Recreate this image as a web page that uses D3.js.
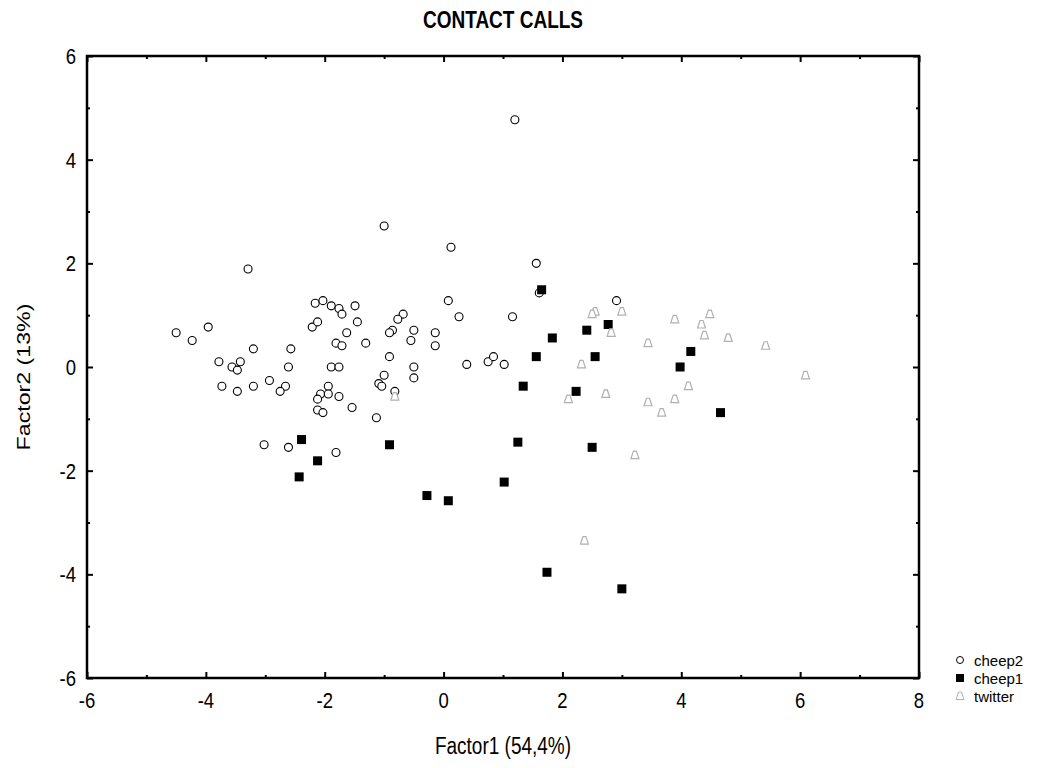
<!DOCTYPE html>
<html>
<head>
<meta charset="utf-8">
<script src="https://cdn.jsdelivr.net/npm/d3@7"></script>
<style>
  html, body { margin: 0; padding: 0; background: #fff; }
  svg text { font-family: Arial, "Liberation Sans", sans-serif; fill: #000; }
</style>
</head>
<body>
<svg id="chart" width="1063" height="768"></svg>
<script>
// Factor scores (Factor1, Factor2) of contact calls, by call type
const cheep2X = [-3.29, 1.20, -1.00, 0.125, 1.56,
  -2.16, -2.03, -1.89, -1.76, -1.71, -1.49, -1.45, -2.21, -2.12, -1.63, -1.31, -1.81, -1.71,
  -4.50, -4.23, -3.96, -3.20, -2.57, -3.78, -3.42, -3.56, -3.47, -2.61, -1.89, -1.76,
  -3.73, -3.47, -3.20, -2.93, -2.66, -2.75, -1.94, -2.07, -2.12, -1.94, -1.76, -2.12, -2.03,
  -1.54, -1.13, -3.02, -2.61, -1.81,
  0.08, 0.26, -0.68, -0.77, -0.86, -0.91, -0.50, -0.55, -0.14, -0.14, -0.91, -0.50, -0.50,
  -1.00, -1.09, -1.04, -0.82, 0.39, 0.75, 0.84, 1.02, 1.16, 1.61, 2.91];
const cheep2Y = [1.89, 4.77, 2.72, 2.31, 2.00,
  1.23, 1.28, 1.18, 1.13, 1.02, 1.18, 0.87, 0.77, 0.87, 0.66, 0.46, 0.46, 0.41,
  0.66, 0.51, 0.77, 0.35, 0.35, 0.10, 0.10, 0.00, -0.06, 0.00, 0.00, 0.00,
  -0.37, -0.47, -0.37, -0.26, -0.37, -0.47, -0.37, -0.52, -0.62, -0.52, -0.57, -0.83, -0.88,
  -0.78, -0.98, -1.50, -1.55, -1.65,
  1.28, 0.97, 1.02, 0.92, 0.71, 0.66, 0.71, 0.51, 0.66, 0.41, 0.20, 0.00, -0.21,
  -0.16, -0.32, -0.37, -0.47, 0.05, 0.10, 0.20, 0.05, 0.97, 1.43, 1.28];

const cheep1X = [-2.39, -2.12, -2.43, 1.65, 1.83, 1.56, 1.34, 2.41, 2.77, 2.55, 2.23,
  -0.91, 1.25, 2.50, 1.02, -0.28, 0.08, 1.74, 3.00, 4.16, 3.98, 4.66];
const cheep1Y = [-1.40, -1.81, -2.12, 1.49, 0.56, 0.20, -0.37, 0.71, 0.82, 0.20, -0.47,
  -1.50, -1.45, -1.55, -2.22, -2.48, -2.58, -3.96, -4.28, 0.30, 0.00, -0.88];

const twitterX = [-0.82, 2.55, 2.50, 3.00, 2.82, 2.32, 2.10, 2.73, 3.22, 2.37,
  3.89, 4.48, 4.34, 4.39, 4.79, 3.44, 5.42, 6.09, 4.12, 3.89, 3.44, 3.67];
const twitterY = [-0.57, 1.07, 1.02, 1.07, 0.66, 0.05, -0.62, -0.52, -1.70, -3.35,
  0.92, 1.02, 0.82, 0.61, 0.56, 0.46, 0.41, -0.16, -0.37, -0.62, -0.68, -0.88];

const seriesNames = ["cheep2", "cheep1", "twitter"];
const xTicks = [-6, -4, -2, 0, 2, 4, 6, 8];
const yTicks = [-6, -4, -2, 0, 2, 4, 6];
const chartTitle = "CONTACT CALLS";
const xTitle = "Factor1 (54,4%)";
const yTitle = "Factor2 (13%)";

const svg = d3.select("#chart");
const plot = { left: 87, right: 919, top: 56, bottom: 678 };
const stretch = 1.22; // text is drawn tall and narrow

const x = d3.scaleLinear().domain([-6, 8]).range([plot.left, plot.right]);
const y = d3.scaleLinear().domain([-6, 6]).range([plot.bottom, plot.top]);

const minorX = d3.range(-5, 8, 2);
const minorY = d3.range(-5, 6, 2);

// Inward ticks on all four sides
function tickGroup(axisFn, scale, values, size, transform) {
  const g = svg.append("g").attr("transform", transform)
    .call(axisFn(scale).tickValues(values).tickSize(size).tickFormat(""));
  g.select(".domain").remove();
  g.selectAll(".tick line").attr("stroke", "#000").attr("stroke-width", 2);
  return g;
}
tickGroup(d3.axisTop, x, xTicks, 6, `translate(0,${plot.bottom})`);
tickGroup(d3.axisTop, x, minorX, 3, `translate(0,${plot.bottom})`);
tickGroup(d3.axisBottom, x, xTicks, 6, `translate(0,${plot.top})`);
tickGroup(d3.axisBottom, x, minorX, 3, `translate(0,${plot.top})`);
tickGroup(d3.axisRight, y, yTicks, 6, `translate(${plot.left},0)`);
tickGroup(d3.axisRight, y, minorY, 3, `translate(${plot.left},0)`);
tickGroup(d3.axisLeft, y, yTicks, 6, `translate(${plot.right},0)`);
tickGroup(d3.axisLeft, y, minorY, 3, `translate(${plot.right},0)`);

// Frame
svg.append("rect")
  .attr("x", plot.left).attr("y", plot.top)
  .attr("width", plot.right - plot.left).attr("height", plot.bottom - plot.top)
  .attr("fill", "none").attr("stroke", "#000").attr("stroke-width", 2.5);

// Tick labels
svg.append("g").selectAll("text").data(xTicks).join("text")
  .attr("transform", d => `translate(${x(d)},708) scale(1,${stretch})`)
  .attr("text-anchor", "middle").style("font-size", "18.5px")
  .text(d => String(d));
svg.append("g").selectAll("text").data(yTicks).join("text")
  .attr("transform", d => `translate(76,${y(d) + 8}) scale(1,${stretch})`)
  .attr("text-anchor", "end").style("font-size", "18.5px")
  .text(d => String(d));

// Titles
svg.append("text").attr("transform", `translate(${(plot.left + plot.right) / 2},28) scale(1,${stretch})`)
  .attr("text-anchor", "middle").style("font-size", "19px").style("font-weight", "bold")
  .text(chartTitle);
svg.append("text").attr("transform", `translate(${(plot.left + plot.right) / 2},754) scale(1,${stretch})`)
  .attr("text-anchor", "middle").style("font-size", "19px").text(xTitle);
svg.append("text").attr("transform", `translate(30,377) rotate(-90) scale(${stretch},1)`)
  .attr("text-anchor", "middle").style("font-size", "19px").text(yTitle);

// Marker shapes
const triPath = "M-1.5,-4 L1.5,-4 L4,3.5 L-4,3.5 Z";
function drawCircles(g, xs, ys) {
  g.selectAll("circle").data(xs.map((v, i) => [v, ys[i]])).join("circle")
    .attr("cx", d => x(d[0])).attr("cy", d => y(d[1])).attr("r", 4)
    .attr("fill", "#fff").attr("stroke", "#000").attr("stroke-width", 1.1);
}
function drawSquares(g, xs, ys) {
  g.selectAll("rect").data(xs.map((v, i) => [v, ys[i]])).join("rect")
    .attr("x", d => x(d[0]) - 4.5).attr("y", d => y(d[1]) - 4.5)
    .attr("width", 9).attr("height", 9).attr("fill", "#000");
}
function drawTriangles(g, xs, ys) {
  g.selectAll("path").data(xs.map((v, i) => [v, ys[i]])).join("path")
    .attr("transform", d => `translate(${x(d[0])},${y(d[1])})`)
    .attr("d", triPath).attr("fill", "#fff").attr("stroke", "#b0b0b0").attr("stroke-width", 1.2);
}

drawCircles(svg.append("g"), cheep2X, cheep2Y);
drawSquares(svg.append("g"), cheep1X, cheep1Y);
drawTriangles(svg.append("g"), twitterX, twitterY);

// Legend
const legend = svg.append("g").attr("transform", "translate(960,660)");
const rowGap = 18;
legend.append("circle").attr("cx", 0).attr("cy", 0).attr("r", 3.5)
  .attr("fill", "#fff").attr("stroke", "#000").attr("stroke-width", 1);
legend.append("rect").attr("x", -4).attr("y", rowGap - 4).attr("width", 8).attr("height", 8).attr("fill", "#000");
legend.append("path").attr("transform", `translate(0,${rowGap * 2})`)
  .attr("d", triPath).attr("fill", "#fff").attr("stroke", "#b0b0b0").attr("stroke-width", 1);
legend.selectAll("text.lbl").data(seriesNames).join("text").attr("class", "lbl")
  .attr("x", 14).attr("y", (d, i) => i * rowGap + 5.5)
  .style("font-size", "15px").text(d => d);
</script>
</body>
</html>
